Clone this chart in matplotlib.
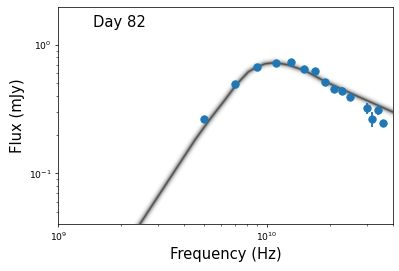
import matplotlib
matplotlib.use('Agg')
import matplotlib.pyplot as plt

# observed spectrum (Hz, mJy)
freq = [5.0e9, 7.0e9, 9.0e9, 1.1e10, 1.3e10, 1.5e10, 1.7e10, 1.9e10, 2.1e10,
        2.3e10, 2.5e10, 3.0e10, 3.2e10, 3.4e10, 3.6e10]
flux = [0.265, 0.494, 0.677, 0.720, 0.741, 0.647, 0.630, 0.518, 0.454,
        0.440, 0.391, 0.321, 0.264, 0.313, 0.245]
flux_err = [0.012, 0.015, 0.018, 0.02, 0.02, 0.02, 0.02, 0.025, 0.033,
            0.03, 0.025, 0.03, 0.035, 0.028, 0.015]

# model curve
model_freq = [2.3e9, 2.464e9, 4.52e9, 5.33e9, 6.29e9, 7.16e9, 8.14e9, 8.86e9,
              9.78e9, 1.092e10, 1.261e10, 1.521e10, 1.897e10, 2.738e10,
              3.97e10, 4.2e10]
model_flux = [0.0343, 0.0403, 0.1817, 0.2636, 0.3726, 0.494, 0.615, 0.668,
              0.711, 0.728, 0.698, 0.630, 0.518, 0.395, 0.302, 0.290]

fig = plt.figure(figsize=(6, 4.08), dpi=66.5)
ax = fig.add_axes([0.146, 0.173, 0.838, 0.80])

# blurred band from many posterior draws
for lw, a in [(12, 0.03), (9, 0.05), (7, 0.08), (5, 0.11), (3.5, 0.17),
              (2, 0.28), (1, 0.3)]:
    ax.plot(model_freq, model_flux, color='k', lw=lw, alpha=a,
            solid_capstyle='butt', solid_joinstyle='round')

ax.errorbar(freq, flux, yerr=flux_err, fmt='o', color='#1f77b4', markersize=8,
            elinewidth=2, zorder=5)

ax.set_xscale('log')
ax.set_yscale('log')
ax.set_xlim(1e9, 4.0e10)
ax.set_ylim(0.0402, 1.97)
ax.set_xlabel('Frequency (Hz)', fontsize=16)
ax.set_ylabel('Flux (mJy)', fontsize=16)
ax.text(0.105, 0.91, 'Day 82', transform=ax.transAxes, fontsize=16)

fig.savefig('out.png', dpi=66.5)
